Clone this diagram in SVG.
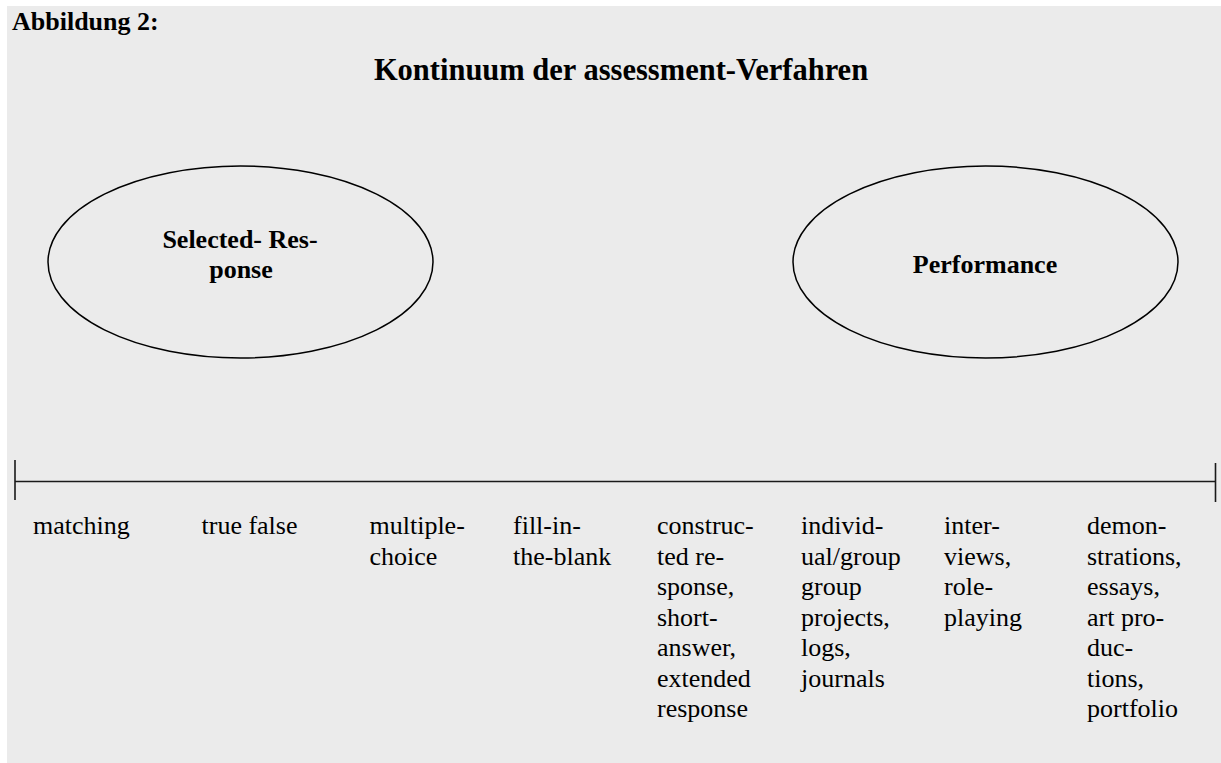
<svg xmlns="http://www.w3.org/2000/svg" width="1221" height="763" viewBox="0 0 1221 763">
<style>
  .bg { fill: #ebebeb; }
  .t { font-family: "Liberation Serif", "Times New Roman", serif; fill: #000; }
  .b { font-weight: bold; }
  .lbl { font-size: 26px; }
  .ell { fill: none; stroke: #000; stroke-width: 1.5; }
  .axis { stroke: #1a1a1a; stroke-width: 1.6; fill: none; }
</style>
<rect class="bg" x="7" y="6" width="1214" height="757"/>
<text id="caption" class="t b" x="12" y="30" font-size="26">Abbildung 2:</text>
<text id="title" class="t b" x="621" y="80" font-size="30.5" text-anchor="middle">Kontinuum der assessment-Verfahren</text>

<g id="node-selected">
  <ellipse class="ell" cx="240.5" cy="262" rx="192.5" ry="96"/>
  <text class="t b lbl" text-anchor="middle"><tspan x="240" y="248">Selected- Res-</tspan><tspan x="241" y="278">ponse</tspan></text>
</g>
<g id="node-performance">
  <ellipse class="ell" cx="985.5" cy="262" rx="192.5" ry="96"/>
  <text class="t b lbl" x="985" y="273" text-anchor="middle">Performance</text>
</g>

<g id="connectors">
  <line class="axis" x1="15" y1="481.5" x2="1215.5" y2="481.5"/>
  <line class="axis" x1="15" y1="460" x2="15" y2="500"/>
  <line class="axis" x1="1215.5" y1="463" x2="1215.5" y2="502"/>
</g>

<g id="labels">
  <text id="l1" class="t lbl" x="33" y="534">matching</text>
  <text id="l2" class="t lbl" x="201.5" y="534">true false</text>
  <text id="l3" class="t lbl"><tspan x="369.5" y="534">multiple-</tspan><tspan x="369.5" dy="30.5">choice</tspan></text>
  <text id="l4" class="t lbl"><tspan x="513" y="534">fill-in-</tspan><tspan x="513" dy="30.5">the-blank</tspan></text>
  <text id="l5" class="t lbl"><tspan x="657" y="534">construc-</tspan><tspan x="657" dy="30.5">ted re-</tspan><tspan x="657" dy="30.5">sponse,</tspan><tspan x="657" dy="30.5">short-</tspan><tspan x="657" dy="30.5">answer,</tspan><tspan x="657" dy="30.5">extended</tspan><tspan x="657" dy="30.5">response</tspan></text>
  <text id="l6" class="t lbl"><tspan x="801" y="534">individ-</tspan><tspan x="801" dy="30.5">ual/group</tspan><tspan x="801" dy="30.5">group</tspan><tspan x="801" dy="30.5">projects,</tspan><tspan x="801" dy="30.5">logs,</tspan><tspan x="801" dy="30.5">journals</tspan></text>
  <text id="l7" class="t lbl"><tspan x="944" y="534">inter-</tspan><tspan x="944" dy="30.5">views,</tspan><tspan x="944" dy="30.5">role-</tspan><tspan x="944" dy="30.5">playing</tspan></text>
  <text id="l8" class="t lbl"><tspan x="1087" y="534">demon-</tspan><tspan x="1087" dy="30.5">strations,</tspan><tspan x="1087" dy="30.5">essays,</tspan><tspan x="1087" dy="30.5">art pro-</tspan><tspan x="1087" dy="30.5">duc-</tspan><tspan x="1087" dy="30.5">tions,</tspan><tspan x="1087" dy="30.5">portfolio</tspan></text>
</g>
</svg>
